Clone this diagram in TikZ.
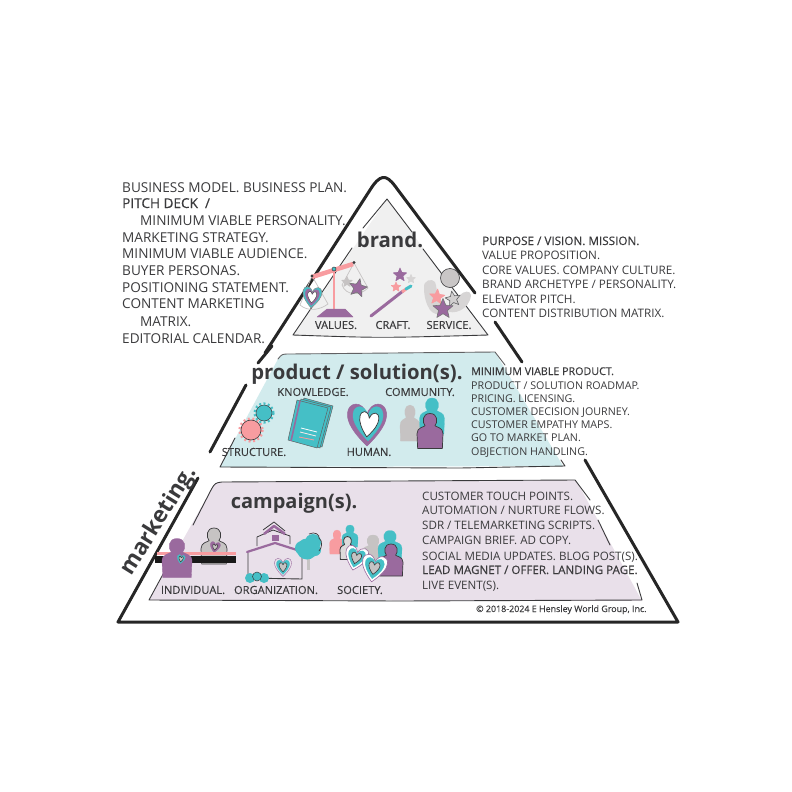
\documentclass[tikz,border=0pt]{standalone}
\usepackage{fontspec}
\setmainfont{Open Sans}
\newfontface\semib[FakeBold=0.35]{Open Sans}
\newfontface\labf[FakeBold=0.12]{Open Sans}
\newfontface\titlef[FakeBold=0.9]{Open Sans}
\definecolor{ink}{HTML}{3A3A3C}
\definecolor{pur}{HTML}{9A6A9E}
\definecolor{teal}{HTML}{45BFC6}
\definecolor{pinkk}{HTML}{F89CA0}
\definecolor{grayy}{HTML}{C6C3C3}
\definecolor{brandbg}{HTML}{F0F0F0}
\definecolor{prodbg}{HTML}{D2EBED}
\definecolor{campbg}{HTML}{E9E0EA}
\newcommand\HeartPath{(0,1) .. controls (-.7,.4) and (-1.05,-.1) .. (-1,-.5) .. controls (-.95,-1) and (-.25,-1.1) .. (0,-.45) .. controls (.25,-1.1) and (.95,-1) .. (1,-.5) .. controls (1.05,-.1) and (.7,.4) .. (0,1) -- cycle}
\newcommand\Heart[8]{\begin{scope}[shift={(#1,#2)},rotate=#8,x=#3pt,y=-#4pt]\path[fill=#5,draw=#6,line width=#7pt,line join=round] \HeartPath;\end{scope}}
\newcommand\Star[6]{\begin{scope}[shift={(#1,#2)},rotate=#4,x=#3pt,y=#3pt]\path[fill=#5,draw=#6,line width=.6pt,line join=round] (90:1)--(126:.45)--(162:1)--(198:.45)--(234:1)--(270:.45)--(306:1)--(342:.45)--(18:1)--(54:.45)--cycle;\end{scope}}
\newcommand\Person[7]{\begin{scope}[shift={(#1,#2)},x=#3pt,y=-#4pt]\path[fill=#5,draw=#6,line width=#7pt,line join=round] (-.95,1) -- (-1,.15) .. controls (-1,-.2) and (-.5,-.22) .. (-.38,-.3) .. controls (-.62,-.5) and (-.6,-1) .. (0,-1) .. controls (.6,-1) and (.62,-.5) .. (.38,-.3) .. controls (.5,-.22) and (1,-.2) .. (1,.15) -- (.95,1) -- cycle;\end{scope}}
\tikzset{
  txt/.style={anchor=base west,inner sep=0pt,text=ink},
  lab/.style={anchor=center,inner sep=0pt,text=ink,font=\labf\fontsize{11.1}{12}\selectfont},
  ttl/.style={anchor=center,inner sep=0pt,text=ink,font=\bfseries\fontsize{#1}{#1}\selectfont},
  outer/.style={draw=black!85!white,line width=3pt,line cap=round,line join=round},
  thin/.style={draw=ink,line width=.9pt,line cap=round,line join=round},
  fa/.style={font=\fontsize{13.6}{15}\selectfont},
  fb/.style={font=\fontsize{11.7}{14}\selectfont},
  fc/.style={font=\fontsize{10.7}{13}\selectfont},
  fd/.style={font=\fontsize{11.6}{14}\selectfont},
}
\begin{document}
\begin{tikzpicture}[x=1pt,y=-1pt]
\useasboundingbox (0,0) rectangle (792,792);
% panels
\fill[brandbg] (387,199) -- (488,336) -- (293,336) -- cycle;
\fill[prodbg] (220,467) -- (278,359) .. controls (282,354) .. (290,354) -- (495,352) -- (563,466) -- cycle;
\fill[campbg] (149,600) -- (211,490) .. controls (215,483) .. (222,482) -- (576,480) -- (642,601) -- cycle;
% outer triangle
\draw[outer] (265,353) -- (370,190) .. controls (380,174) and (386,174) .. (395,186) -- (475,293);
\draw[outer] (495,322) -- (522,362);
\draw[outer] (272,346) -- (258,363);
\draw[outer] (246,385) -- (210,452);
\draw[outer] (585,460) -- (678,622) -- (118,622) -- (198,478);
% inner lines
\draw[thin] (363,228) -- (387,199) -- (412,232);
\draw[thin] (352,248) -- (293,335) .. controls (380,338) .. (488,335) -- (423,249);
\draw[thin,draw=ink!80] (278,359) .. controls (282,354) .. (290,354) -- (495,352) -- (505,365);
\draw[thin] (235,438) -- (220,467) -- (460,468) -- (565,466) -- (561,460);
\draw[thin] (193,525) -- (211,490) .. controls (215,483) .. (222,482) -- (575,480) -- (590,500);
\draw[thin] (598,520) -- (610,545);
\draw[thin] (637,583) -- (642,600) -- (400,601) -- (149,600) -- (168,565);
% brand: values
\draw[grayy,line width=.7pt] (312,276) -- (300,305) .. controls (308,312) and (320,310) .. (328,304) -- (312,276);
\draw[grayy,line width=.7pt] (354,263) -- (342,285) .. controls (346,296) and (360,296) .. (368,288) -- (354,263);
\draw[pinkk,line width=4.5pt] (312,277) -- (353,264);
\fill[ink] (312,276) circle (1.6);
\fill[ink] (354,262.5) circle (1.6);
\draw[pinkk,line width=1.6pt] (334,270) -- (334,309);
\filldraw[fill=teal,draw=ink,line width=.5pt] (334,269) circle (2);
\filldraw[fill=pur,draw=pur,line join=round] (327,309) -- (345,309) -- (353,317) -- (317,317) -- cycle;
\Heart{312}{297}{9.5}{11}{teal}{ink!60}{.5}{-5}
\Heart{312}{297}{7}{8.5}{pur}{pur}{.3}{-5}
\Heart{312}{297}{4.5}{6}{white}{ink}{.4}{-5}
\Star{347}{282}{5.5}{0}{grayy}{grayy}
\Star{358}{288}{9.5}{-12}{pur}{ink!70}
% craft
\draw[pur,line width=3pt,line cap=round] (371,316) -- (403,291);
\draw[pinkk,line width=3pt] (402,292) -- (406,289);
\draw[teal,line width=3pt,line cap=round] (406,289) -- (411,286);
\Star{400}{275}{7}{0}{pur}{pur}
\Star{411}{279}{4.5}{0}{grayy!70}{grayy!70}
\Star{396}{287}{5}{0}{pinkk}{pinkk}
% service
\fill[grayy!70] (424,288) .. controls (423,280) and (432,278) .. (435,282) .. controls (438,290) and (436,300) .. (443,308) .. controls (446,315) and (436,317) .. (430,310) .. controls (426,304) and (424,296) .. (424,288) -- cycle;
\fill[grayy!70] (471,295) .. controls (470,290) and (464,291) .. (460,295) .. controls (455,302) and (452,306) .. (446,310) .. controls (452,316) and (470,310) .. (471,295) -- cycle;
\filldraw[fill=grayy!95,draw=ink,line width=.6pt] (450,278) circle (9.5);
\Star{437}{297}{8}{-5}{pinkk}{pinkk}
\Star{453}{299}{8}{10}{grayy!80}{ink!80}
\Star{443}{309}{10.5}{0}{pur}{ink!70}
% product: structure
\draw[pinkk,line width=2.5pt,dash pattern=on 2pt off 2.6pt] (251,430) circle (11.5);
\filldraw[fill=pinkk,draw=ink,line width=.6pt] (251,430) circle (10);
\draw[teal,line width=2.2pt,dash pattern=on 2pt off 2.4pt] (264,413) circle (9.5);
\filldraw[fill=teal,draw=ink,line width=.5pt] (264,413) circle (8);
% book
\filldraw[fill=teal,draw=ink!80,line width=.5pt,line join=round] (304,398) -- (333,406) -- (322,447) -- (293,440) -- cycle;
\filldraw[fill=teal,draw=ink!80,line width=.5pt,line join=round] (301,399) -- (331,407) -- (320,448) -- (290,440) -- cycle;
\filldraw[fill=teal,draw=ink!80,line width=.5pt,line join=round] (297,400) -- (328,408) -- (317,448) -- (288,440) -- cycle;
\draw[pur,line width=1.6pt] (300,401) -- (291,441);
\draw[white,line width=.8pt] (301,428) -- (317,432);
\draw[white!80!pinkk,line width=.8pt] (300,432) -- (316,436);
\draw[pinkk,line width=.8pt] (299,437) -- (314,440);
% human heart
\Heart{367}{424}{19.5}{22}{pur}{pur}{.5}{0}
\Heart{368}{423}{15}{18}{teal}{teal}{.3}{0}
\Heart{368.5}{424}{9.5}{13}{white}{ink}{.7}{-8}
% community
\Person{410}{423}{10}{18}{grayy}{grayy}{.2}
\Person{432}{416}{12.5}{18}{teal}{teal}{.2}
\Person{430}{431}{13}{17.5}{pur}{ink}{.7}
% campaign: individual
\Person{214}{546}{13}{18}{grayy}{ink}{.7}
\Heart{215}{547}{5}{5.5}{pur}{pur}{.3}{-10}
\Heart{215}{547}{2.6}{3.2}{grayy}{ink}{.5}{-10}
\fill[pinkk] (157,552) rectangle (235.5,555);
\fill[black!90] (155,556) rectangle (235.5,563);
\Person{177}{558}{15}{19.5}{pur}{pur}{.3}
\Heart{181}{559}{4}{4.5}{teal}{teal}{.3}{-10}
\Heart{181}{559}{2.2}{3}{grayy}{ink}{.5}{-10}
% organization
\draw[ink,line width=.9pt] (248,553) -- (248,578) -- (302,579) -- (302,550);
\draw[ink,line width=.8pt,line join=round] (257,546) -- (257,537) -- (273,530) -- (290,536) -- (290,544);
\draw[pur,line width=2.2pt,line join=round,line cap=round] (247,552) -- (275,543) -- (297,550);
\draw[ink,line width=.8pt,line join=round] (263,530) -- (274,522) -- (285,531);
\draw[pur,line width=2.5pt,line join=round] (264,534) -- (274,526) -- (285,534);
\fill[pur] (272,535) rectangle (279,541);
\Heart{283}{567}{8.5}{9.5}{campbg}{pur}{.4}{0}
\Heart{283}{567}{6.5}{7.5}{teal}{teal}{.3}{0}
\Heart{283}{567}{4}{4.8}{grayy}{ink}{.5}{0}
\fill[teal] (250,578) circle (5);
\fill[teal] (264,578) circle (5);
\filldraw[fill=teal,draw=ink,line width=.5pt] (257,576.5) circle (4.5);
% tree
\draw[grayy,line width=3pt] (308,558) -- (308,570);
\fill[teal] (307,549) circle (10.5) (302,548) circle (7) (313,542) circle (8) (315,550) circle (6);
\draw[ink,line width=.7pt] (309,534) .. controls (315,531) and (320,535) .. (319,538) .. controls (323,541) and (322,548) .. (319,551);
% society
\Person{337}{542}{7.5}{12}{pinkk}{pinkk}{.2}
\Person{350}{536}{8}{11}{teal}{teal}{.2}
\Person{347.5}{548}{7.5}{11.5}{grayy!60}{ink}{.8}
\Person{373}{550}{11.5}{15}{grayy}{grayy}{.2}
\Person{390}{546}{12}{15.5}{teal}{teal}{.2}
\Person{391}{560}{12}{16}{pur}{ink}{.7}
\Heart{356}{558}{11.5}{12.5}{white}{pur}{.6}{-15}
\Heart{356}{558}{8.5}{9.5}{teal}{teal}{.3}{-15}
\Heart{356}{558}{5}{5.8}{grayy}{ink}{.6}{-15}
\Heart{374}{568}{12.5}{14}{white}{pur}{.6}{-10}
\Heart{374}{568}{9.5}{10.8}{teal}{teal}{.3}{-10}
\Heart{374}{568}{5.5}{6.5}{grayy}{ink}{.6}{-10}
% titles
\node[ttl=20.4] (tbrand) at (390,240) {brand.};
\node[ttl=20.3] (tprod) at (357,374) {product / solution(s).};
\node[ttl=20] (tcamp) at (294,503) {campaign(s).};
\node[ttl=22.5,rotate=58] (tmark) at (159,521) {marketing.};
% icon labels
\node[lab] (lv) at (336,325) {VALUES.};
\node[lab] (lc) at (393,325) {CRAFT.};
\node[lab] (ls) at (449,325) {SERVICE.};
\node[lab] (lk) at (313,392) {KNOWLEDGE.};
\node[lab] (lm) at (420,392) {COMMUNITY.};
\node[lab] (lt) at (254,452) {STRUCTURE.};
\node[lab] (lh) at (369,452) {HUMAN.};
\node[lab] (li) at (193,590) {INDIVIDUAL.};
\node[lab] (lo) at (276,590) {ORGANIZATION.};
\node[lab] (ly) at (360,590) {SOCIETY.};
% left block
\node[txt,fa] (a1) at (122,192) {BUSINESS MODEL. BUSINESS PLAN.};
\node[txt,fa] (a2) at (122,208) {\semib PITCH DECK\ \ /};
\node[txt,fa] (a3) at (140,225) {MINIMUM VIABLE PERSONALITY.};
\node[txt,fa] (a4) at (122,242) {MARKETING STRATEGY.};
\node[txt,fa] (a5) at (122,258) {MINIMUM VIABLE AUDIENCE.};
\node[txt,fa] (a6) at (122,275) {BUYER PERSONAS.};
\node[txt,fa] (a7) at (122,292) {POSITIONING STATEMENT.};
\node[txt,fa] (a8) at (122,308) {CONTENT MARKETING};
\node[txt,fa] (a9) at (140,326) {MATRIX.};
\node[txt,fa] (a10) at (122,343) {EDITORIAL CALENDAR.};
% brand block
\node[txt,fb] (b1) at (482,245) {\semib PURPOSE / VISION. MISSION.};
\node[txt,fb] (b2) at (482,259) {VALUE PROPOSITION.};
\node[txt,fb] (b3) at (482,274) {CORE VALUES. COMPANY CULTURE.};
\node[txt,fb] (b4) at (482,288) {BRAND ARCHETYPE / PERSONALITY.};
\node[txt,fb] (b5) at (482,303) {ELEVATOR PITCH.};
\node[txt,fb] (b6) at (482,317) {CONTENT DISTRIBUTION MATRIX.};
% product block
\node[txt,fc] (c1) at (471,375) {\semib MINIMUM VIABLE PRODUCT.};
\node[txt,fc] (c2) at (471,389) {PRODUCT / SOLUTION ROADMAP.};
\node[txt,fc] (c3) at (471,402) {PRICING. LICENSING.};
\node[txt,fc] (c4) at (471,415) {CUSTOMER DECISION JOURNEY.};
\node[txt,fc] (c5) at (471,428) {CUSTOMER EMPATHY MAPS.};
\node[txt,fc] (c6) at (471,441) {GO TO MARKET PLAN.};
\node[txt,fc] (c7) at (471,455) {OBJECTION HANDLING.};
% campaign block
\node[txt,fd] (d1) at (422,500) {CUSTOMER TOUCH POINTS.};
\node[txt,fd] (d2) at (422,514) {AUTOMATION / NURTURE FLOWS.};
\node[txt,fd] (d3) at (422,529) {SDR / TELEMARKETING SCRIPTS.};
\node[txt,fd] (d4) at (422,544) {CAMPAIGN BRIEF. AD COPY.};
\node[txt,fd] (d5) at (422,560) {SOCIAL MEDIA UPDATES. BLOG POST(S).};
\node[txt,fd] (d6) at (422,574) {\semib LEAD MAGNET / OFFER. LANDING PAGE.};
\node[txt,fd] (d7) at (422,589) {LIVE EVENT(S).};
\node[txt,font=\labf\fontsize{8.9}{10}\selectfont] (cr) at (476,612) {© 2018-2024 E Hensley World Group, Inc.};
\end{tikzpicture}
\end{document}
